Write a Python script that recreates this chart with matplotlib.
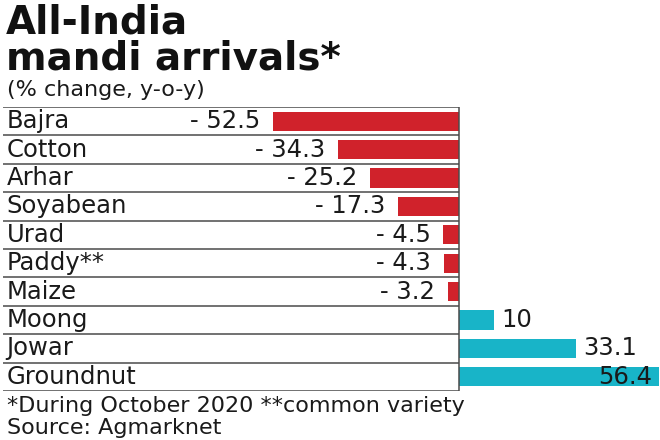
import matplotlib
matplotlib.use("Agg")
import matplotlib.pyplot as plt

categories = ["Bajra", "Cotton", "Arhar", "Soyabean", "Urad", "Paddy**", "Maize",
              "Moong", "Jowar", "Groundnut"]
values = [-52.5, -34.3, -25.2, -17.3, -4.5, -4.3, -3.2, 10, 33.1, 56.4]
value_labels = ["- 52.5", "- 34.3", "- 25.2", "- 17.3", "- 4.5", "- 4.3", "- 3.2",
                "10", "33.1", "56.4"]

title_lines = ["All-India", "mandi arrivals*"]
subtitle = "(% change, y-o-y)"
footnote = "*During October 2020 **common variety"
source = "Source: Agmarknet"

RED = "#d0222b"
CYAN = "#18b4c8"
TXT = "#1a1a1a"
LINE = "#4a4a4a"

plt.rcParams['font.family'] = ['DejaVu Sans']

W, H = 660, 440
fig = plt.figure(figsize=(W / 100, H / 100), dpi=100)
fig.patch.set_facecolor("white")

def fx(px):
    return px / W

def fy(py):
    return 1 - py / H

# axes spanning the table area
left_px, right_px, top_px, bot_px = 3, 660, 107, 391
ax = fig.add_axes([fx(left_px), fy(bot_px), fx(right_px - left_px), (bot_px - top_px) / H])
ax.set_axis_off()

zero_px = 459
scale = 3.54  # px per unit
ax.set_xlim((left_px - zero_px) / scale, (right_px - zero_px) / scale)
n = len(categories)
ax.set_ylim(n - 0.5, -0.5)

ys = list(range(n))
colors = [RED if v < 0 else CYAN for v in values]
ax.barh(ys, values, height=0.67, color=colors, zorder=2)

xmin = ax.get_xlim()[0]
# row separators
for i in range(n + 1):
    ax.plot([xmin, 0], [i - 0.5, i - 0.5], color=LINE, lw=1.1, zorder=3,
            solid_capstyle='butt')
ax.plot([0, 0], [-0.5, n - 0.5], color=LINE, lw=1.1, zorder=3)

FS = 17.5
for i, (cat, v, lab) in enumerate(zip(categories, values, value_labels)):
    ax.text(xmin + 1.0, i, cat, ha='left', va='center', fontsize=FS, color=TXT)
    if v < 0:
        ax.annotate(lab, xy=(v, i), xytext=(-9, 0), textcoords='offset points',
                    ha='right', va='center', fontsize=FS, color=TXT)
    elif i == n - 1:
        ax.annotate(lab, xy=(v, i), xytext=(-5, 0), textcoords='offset points',
                    ha='right', va='center', fontsize=FS, color=TXT, zorder=4)
    else:
        ax.annotate(lab, xy=(v, i), xytext=(5, 0), textcoords='offset points',
                    ha='left', va='center', fontsize=FS, color=TXT)

fig.text(fx(6), fy(34), title_lines[0], ha='left', va='baseline', fontsize=28,
         fontweight='bold', color="#111111")
fig.text(fx(6), fy(69), title_lines[1], ha='left', va='baseline', fontsize=28,
         fontweight='bold', color="#111111")
fig.text(fx(7), fy(96), subtitle, ha='left', va='baseline', fontsize=16, color=TXT)
fig.text(fx(7), fy(412), footnote, ha='left', va='baseline', fontsize=16, color=TXT)
fig.text(fx(7), fy(434), source, ha='left', va='baseline', fontsize=16, color=TXT)

fig.savefig("out.png", dpi=100, facecolor="white")
